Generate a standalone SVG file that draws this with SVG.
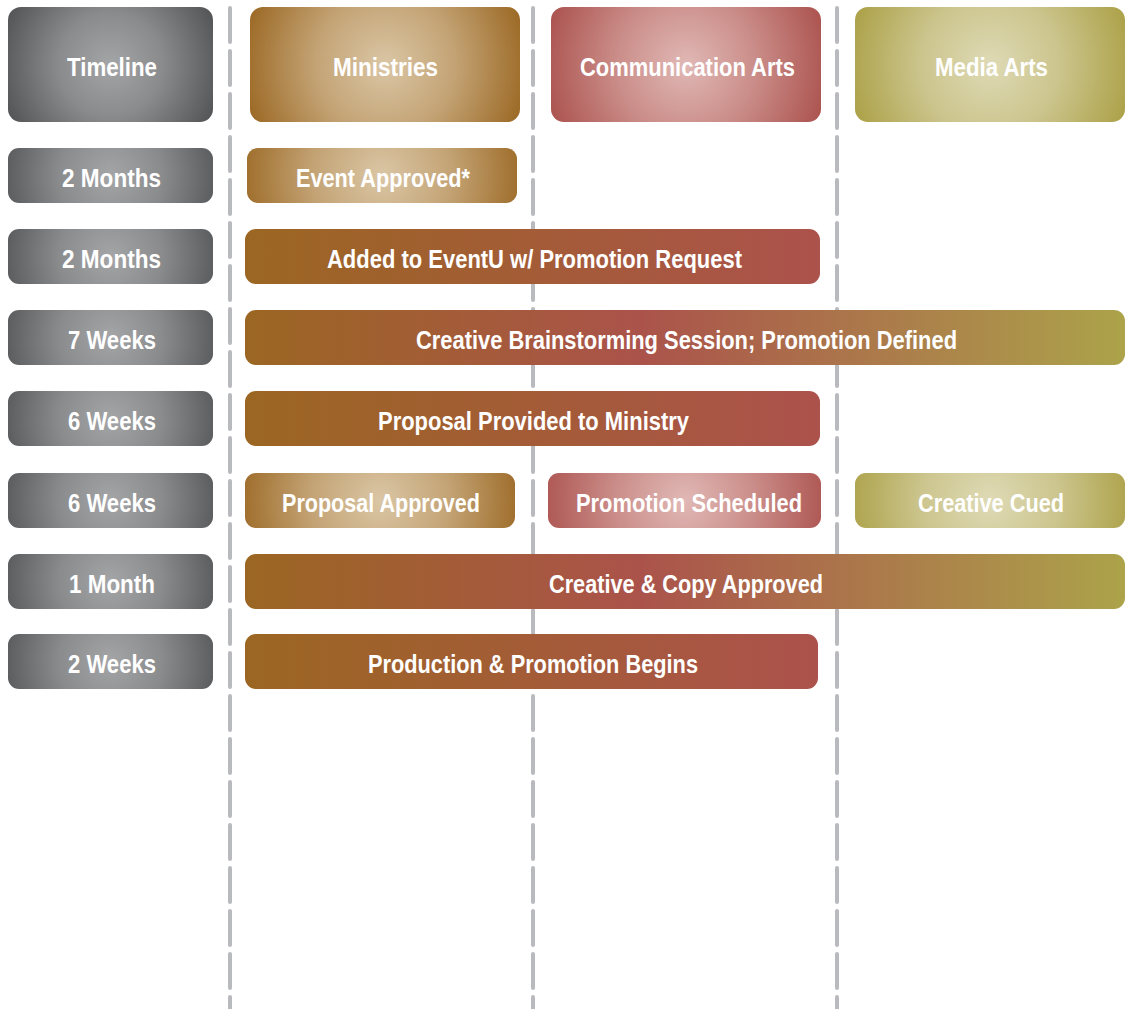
<svg xmlns="http://www.w3.org/2000/svg" width="1138" height="1009" viewBox="0 0 1138 1009">
<defs>
<radialGradient id="gGray" cx="0.5" cy="0.5" r="0.56"><stop offset="0" stop-color="#a4a5a7"/><stop offset="0.45" stop-color="#8a8b8d"/><stop offset="1" stop-color="#535456"/></radialGradient>
<radialGradient id="gMin" cx="0.5" cy="0.5" r="0.56"><stop offset="0" stop-color="#dac6a5"/><stop offset="0.45" stop-color="#c4a476"/><stop offset="1" stop-color="#98641e"/></radialGradient>
<radialGradient id="gCom" cx="0.5" cy="0.5" r="0.56"><stop offset="0" stop-color="#e0b8b5"/><stop offset="0.45" stop-color="#cb8e8a"/><stop offset="1" stop-color="#a94e4a"/></radialGradient>
<radialGradient id="gMed" cx="0.5" cy="0.5" r="0.56"><stop offset="0" stop-color="#deDab5"/><stop offset="0.45" stop-color="#ccc58e"/><stop offset="1" stop-color="#a99e42"/></radialGradient>
<radialGradient id="gGrayH" href="#gGray" gradientTransform="translate(0.5 0.5) scale(1 1.78) translate(-0.5 -0.5)"/>
<radialGradient id="gGrayR" href="#gGray" gradientTransform="translate(0.5 0.5) scale(1 3.73) translate(-0.5 -0.5)"/>
<radialGradient id="gMinH" href="#gMin" gradientTransform="translate(0.5 0.5) scale(1 2.35) translate(-0.5 -0.5)"/>
<radialGradient id="gMinR" href="#gMin" gradientTransform="translate(0.5 0.5) scale(1 4.9) translate(-0.5 -0.5)"/>
<radialGradient id="gComH" href="#gCom" gradientTransform="translate(0.5 0.5) scale(1 2.35) translate(-0.5 -0.5)"/>
<radialGradient id="gComR" href="#gCom" gradientTransform="translate(0.5 0.5) scale(1 4.96) translate(-0.5 -0.5)"/>
<radialGradient id="gMedH" href="#gMed" gradientTransform="translate(0.5 0.5) scale(1 2.35) translate(-0.5 -0.5)"/>
<radialGradient id="gMedR" href="#gMed" gradientTransform="translate(0.5 0.5) scale(1 4.9) translate(-0.5 -0.5)"/>
<linearGradient id="gBR" x1="0" y1="0" x2="1" y2="0"><stop offset="0" stop-color="#9b6622"/><stop offset="1" stop-color="#ac524c"/></linearGradient>
<linearGradient id="gBRO" x1="0" y1="0" x2="1" y2="0"><stop offset="0" stop-color="#9b6622"/><stop offset="0.45" stop-color="#ab534b"/><stop offset="1" stop-color="#aca34a"/></linearGradient>
</defs>
<style>
.lane{stroke:#b9babe;stroke-width:4;stroke-linecap:round;stroke-dasharray:34 9;fill:none}
.t{font-family:"Liberation Sans Narrow","Liberation Sans",Arial,sans-serif;font-weight:bold;font-size:26px;fill:#ffffff;text-anchor:middle}
</style>
<rect width="1138" height="1009" fill="#ffffff"/>
<g id="connectors">
<line class="lane" x1="230" y1="8" x2="230" y2="1012"/>
<line class="lane" x1="533" y1="8" x2="533" y2="1012"/>
<line class="lane" x1="837" y1="8" x2="837" y2="1012"/>
</g>
<g id="h-timeline"><rect x="8" y="7" width="205" height="115" rx="13" fill="url(#gGrayH)"/><text class="t" x="112" y="76" textLength="90" lengthAdjust="spacingAndGlyphs">Timeline</text></g>
<g id="h-ministries"><rect x="250" y="7" width="270" height="115" rx="13" fill="url(#gMinH)"/><text class="t" x="385.5" y="76" textLength="105" lengthAdjust="spacingAndGlyphs">Ministries</text></g>
<g id="h-comm"><rect x="551" y="7" width="270" height="115" rx="13" fill="url(#gComH)"/><text class="t" x="687.5" y="76" textLength="215" lengthAdjust="spacingAndGlyphs">Communication Arts</text></g>
<g id="h-media"><rect x="855" y="7" width="270" height="115" rx="13" fill="url(#gMedH)"/><text class="t" x="991.5" y="76" textLength="113" lengthAdjust="spacingAndGlyphs">Media Arts</text></g>

<g id="t1"><rect x="8" y="148" width="205" height="55" rx="11" fill="url(#gGrayR)"/><text class="t" x="111.5" y="187" textLength="99" lengthAdjust="spacingAndGlyphs">2 Months</text></g>
<g id="t2"><rect x="8" y="229" width="205" height="55" rx="11" fill="url(#gGrayR)"/><text class="t" x="111.5" y="268" textLength="99" lengthAdjust="spacingAndGlyphs">2 Months</text></g>
<g id="t3"><rect x="8" y="310" width="205" height="55" rx="11" fill="url(#gGrayR)"/><text class="t" x="112" y="349" textLength="88" lengthAdjust="spacingAndGlyphs">7 Weeks</text></g>
<g id="t4"><rect x="8" y="391" width="205" height="55" rx="11" fill="url(#gGrayR)"/><text class="t" x="112" y="430" textLength="88" lengthAdjust="spacingAndGlyphs">6 Weeks</text></g>
<g id="t5"><rect x="8" y="473" width="205" height="55" rx="11" fill="url(#gGrayR)"/><text class="t" x="112" y="512" textLength="88" lengthAdjust="spacingAndGlyphs">6 Weeks</text></g>
<g id="t6"><rect x="8" y="554" width="205" height="55" rx="11" fill="url(#gGrayR)"/><text class="t" x="112" y="593" textLength="86" lengthAdjust="spacingAndGlyphs">1 Month</text></g>
<g id="t7"><rect x="8" y="634" width="205" height="55" rx="11" fill="url(#gGrayR)"/><text class="t" x="112" y="673" textLength="88" lengthAdjust="spacingAndGlyphs">2 Weeks</text></g>

<g id="event-approved"><rect x="247" y="148" width="270" height="55" rx="11" fill="url(#gMinR)"/><text class="t" x="383" y="187" textLength="174" lengthAdjust="spacingAndGlyphs">Event Approved*</text></g>
<g id="added-eventu"><rect x="245" y="229" width="575" height="55" rx="11" fill="url(#gBR)"/><text class="t" x="534.5" y="268" textLength="415" lengthAdjust="spacingAndGlyphs">Added to EventU w/ Promotion Request</text></g>
<g id="brainstorm"><rect x="245" y="310" width="880" height="55" rx="11" fill="url(#gBRO)"/><text class="t" x="686.5" y="349" textLength="541" lengthAdjust="spacingAndGlyphs">Creative Brainstorming Session; Promotion Defined</text></g>
<g id="proposal-provided"><rect x="245" y="391" width="575" height="55" rx="11" fill="url(#gBR)"/><text class="t" x="533.5" y="430" textLength="311" lengthAdjust="spacingAndGlyphs">Proposal Provided to Ministry</text></g>
<g id="proposal-approved"><rect x="245" y="473" width="270" height="55" rx="11" fill="url(#gMinR)"/><text class="t" x="381" y="512" textLength="198" lengthAdjust="spacingAndGlyphs">Proposal Approved</text></g>
<g id="promotion-scheduled"><rect x="548" y="473" width="273" height="55" rx="11" fill="url(#gComR)"/><text class="t" x="689" y="512" textLength="226" lengthAdjust="spacingAndGlyphs">Promotion Scheduled</text></g>
<g id="creative-cued"><rect x="855" y="473" width="270" height="55" rx="11" fill="url(#gMedR)"/><text class="t" x="991" y="512" textLength="146" lengthAdjust="spacingAndGlyphs">Creative Cued</text></g>
<g id="copy-approved"><rect x="245" y="554" width="880" height="55" rx="11" fill="url(#gBRO)"/><text class="t" x="686" y="593" textLength="274" lengthAdjust="spacingAndGlyphs">Creative &amp; Copy Approved</text></g>
<g id="production"><rect x="245" y="634" width="573" height="55" rx="11" fill="url(#gBR)"/><text class="t" x="533" y="673" textLength="330" lengthAdjust="spacingAndGlyphs">Production &amp; Promotion Begins</text></g>
</svg>
